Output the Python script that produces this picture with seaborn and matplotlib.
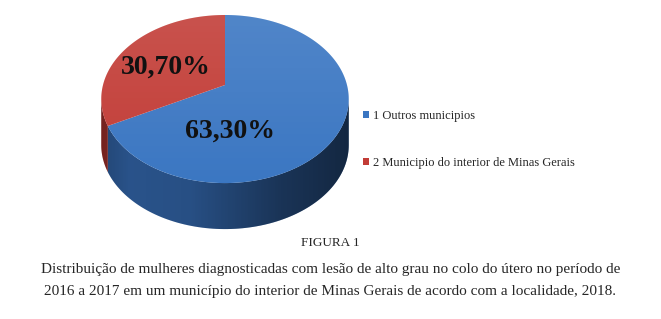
import matplotlib
matplotlib.use("Agg")
import matplotlib.pyplot as plt
import seaborn as sns
import numpy as np
from matplotlib.patches import Polygon

# Dados
categorias = ['1 Outros municipios', '2 Municipio do interior de Minas Gerais']
valores = [63.30, 30.70]
rotulos = ['63,30%', '30,70%']
cores = ['#3A76C2', '#C23C36']
cores_lado = ['#2D5A96', '#952C28']

sns.set_theme(style="white")
plt.rcParams['font.family'] = ['Liberation Serif', 'DejaVu Serif']

W, H = 661, 319
fig = plt.figure(figsize=(W / 100, H / 100), dpi=100)
# eixo em coordenadas de pixel
ax = fig.add_axes([0, 0, 1, 1])

wedges, _ = ax.pie(valores, startangle=90, counterclock=False)
for w in wedges:
    w.set_visible(False)
ax.set_aspect('auto')
ax.set_xlim(0, W)
ax.set_ylim(H, 0)
ax.axis('off')

# projecao em perspectiva do disco
cx, cy, a, c, k = 225, 85, 122, 81.7, 0.167
prof = 46


def proj(t):
    x, y = np.cos(t), np.sin(t)
    return cx + a * x / (1 + k * y), cy - c * y / (1 + k * y)


lim_esq = 180 + np.degrees(np.arcsin(k))
lim_dir = 360 - np.degrees(np.arcsin(k))

topos = []
for w, cor, cor_l in zip(wedges, cores, cores_lado):
    t1, t2 = w.theta1 % 360, w.theta2 % 360
    if t2 <= t1:
        t2 += 360
    # lateral visivel
    for base in (0, 360):
        a0 = max(t1, lim_esq + base)
        b0 = min(t2, lim_dir + base)
        if b0 <= a0:
            continue
        t = np.radians(np.linspace(a0, b0, 100))
        X, Y = proj(t)
        pts = np.vstack([np.column_stack([X, Y]),
                         np.column_stack([X, Y + prof])[::-1]])
        lado = Polygon(pts, closed=True, facecolor=cor_l, edgecolor='none',
                       zorder=1)
        ax.add_patch(lado)
        gx = np.linspace(95, 355, 260)
        alpha = np.interp(gx, [95, 130, 190, 280, 355], [0.25, 0.08, 0.12, 0.42, 0.58])
        img = np.zeros((2, 260, 4))
        img[..., 3] = alpha
        im = ax.imshow(img, extent=(95, 355, 240, 90), aspect='auto',
                       zorder=1.5, interpolation='bilinear')
        im.set_clip_path(lado)
    # face superior
    t = np.radians(np.linspace(t1, t2, 200))
    X, Y = proj(t)
    pts = np.vstack([[cx, cy], np.column_stack([X, Y])])
    topo = Polygon(pts, closed=True, facecolor=cor, edgecolor='none', zorder=2)
    ax.add_patch(topo)
    topos.append(topo)
    gy = np.linspace(10, 195, 100)
    img = np.ones((100, 2, 4))
    img[..., 3] = np.interp(gy, [10, 195], [0.12, 0.0])[:, None]
    im = ax.imshow(img, extent=(95, 355, 195, 10), aspect='auto', zorder=2.5,
                   interpolation='bilinear')
    im.set_clip_path(topo)

ax.set_xlim(0, W)
ax.set_ylim(H, 0)

# rotulos das fatias
ax.text(230, 131, rotulos[0], ha='center', va='center', fontsize=20,
        fontweight='bold', color='#111111', zorder=5)
ax.text(166, 67, rotulos[1], ha='center', va='center', fontsize=20,
        fontweight='bold', color='#111111', zorder=5)

# legenda
ax.legend(topos, categorias, loc='upper left',
          bbox_to_anchor=(357 / W, 1 - 104 / H), frameon=False,
          fontsize=9, handlelength=0.5, handleheight=0.5,
          handletextpad=0.3, labelspacing=2.75, borderpad=0)

# legenda da figura
ax.text(W / 2, 243, 'FIGURA 1', ha='center', va='center', fontsize=9.5)
ax.text(W / 2, 269,
        'Distribuição de mulheres diagnosticadas com lesão de alto grau no colo do útero no período de',
        ha='center', va='center', fontsize=11)
ax.text(W / 2, 292,
        '2016 a 2017 em um município do interior de Minas Gerais de acordo com a localidade, 2018.',
        ha='center', va='center', fontsize=11)

fig.savefig('out.png', dpi=100, facecolor='white')
